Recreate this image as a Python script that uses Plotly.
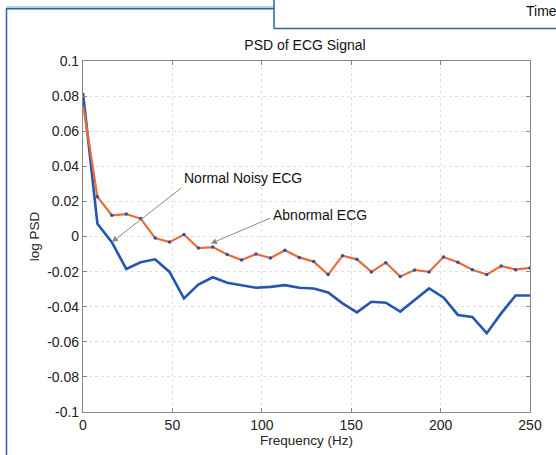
import plotly.graph_objects as go
import numpy as np

freq = np.linspace(0, 250, 32)

abnormal_ecg = [0.0752, 0.0226, 0.0121, 0.0128, 0.0102, -0.0009, -0.0032, 0.0011,
                -0.0066, -0.0060, -0.0102, -0.0134, -0.0100, -0.0123, -0.0079, -0.0119,
                -0.0143, -0.0217, -0.0109, -0.0130, -0.0202, -0.0149, -0.0228, -0.0191,
                -0.0202, -0.0117, -0.0147, -0.0189, -0.0217, -0.0168, -0.0189, -0.0179]

normal_noisy_ecg = [0.0818, 0.0072, -0.0032, -0.0185, -0.0147, -0.0130, -0.0202, -0.0353,
                    -0.0274, -0.0232, -0.0264, -0.0279, -0.0292, -0.0287, -0.0277, -0.0292,
                    -0.0296, -0.0319, -0.0381, -0.0432, -0.0372, -0.0377, -0.0428, -0.0362,
                    -0.0296, -0.0347, -0.0447, -0.0458, -0.0551, -0.0438, -0.0336, -0.0336]

y_ticks = [0.1, 0.08, 0.06, 0.04, 0.02, 0, -0.02, -0.04, -0.06, -0.08, -0.1]
y_tick_text = ["0.1", "0.08", "0.06", "0.04", "0.02", "0", "-0.02", "-0.04", "-0.06", "-0.08", "-0.1"]
x_ticks = [0, 50, 100, 150, 200, 250]

FONT = "Liberation Sans, Arial, sans-serif"

fig = go.Figure()
fig.add_trace(go.Scatter(x=freq, y=normal_noisy_ecg, mode="lines",
                         line=dict(color="#2455b0", width=2.6), showlegend=False))
fig.add_trace(go.Scatter(x=freq, y=abnormal_ecg, mode="lines+markers",
                         line=dict(color="#ee6a35", width=2.2),
                         marker=dict(color="#2455b0", size=3.5), showlegend=False))

# plot area pixels
L, R, T, B = 83, 530, 61, 412
W, H = 556, 455
def px(x):
    return (x - L) / (R - L)
def py(y):
    return (B - y) / (B - T)

frame_color = "#2a65a8"
shapes = [
    dict(type="line", xref="paper", yref="paper", x0=px(6.5), x1=px(274), y0=py(7), y1=py(7),
         line=dict(color="#9dbbe0", width=1.5)),
    dict(type="line", xref="paper", yref="paper", x0=px(6.5), x1=px(274), y0=py(8.7), y1=py(8.7),
         line=dict(color=frame_color, width=1.5)),
    dict(type="line", xref="paper", yref="paper", x0=px(6.5), x1=px(6.5), y0=py(8), y1=py(460),
         line=dict(color=frame_color, width=1.5)),
    dict(type="line", xref="paper", yref="paper", x0=px(274), x1=px(274), y0=py(-2), y1=py(28.5),
         line=dict(color=frame_color, width=1.5)),
    dict(type="line", xref="paper", yref="paper", x0=px(274), x1=px(560), y0=py(28.5), y1=py(28.5),
         line=dict(color=frame_color, width=1.5)),
]

annotations = [
    dict(x=px(524), y=py(11), xref="paper", yref="paper", text="Time", showarrow=False,
         xanchor="left", yanchor="middle", font=dict(family=FONT, size=14, color="#111")),
    dict(x=16.13, y=-0.0032, ax=55.8, ay=0.0283, xref="x", yref="y", axref="x", ayref="y",
         text="", showarrow=True, arrowhead=2, arrowsize=1.2, arrowwidth=1, arrowcolor="#888"),
    dict(x=55.3, y=0.0335, xref="x", yref="y", text="Normal Noisy ECG", showarrow=False,
         xanchor="left", yanchor="middle", font=dict(family=FONT, size=14, color="#111")),
    dict(x=71.5, y=-0.0040, ax=105.5, ay=0.0108, xref="x", yref="y", axref="x", ayref="y",
         text="", showarrow=True, arrowhead=2, arrowsize=1.2, arrowwidth=1, arrowcolor="#888"),
    dict(x=105.3, y=0.0120, xref="x", yref="y", text="Abnormal ECG", showarrow=False,
         xanchor="left", yanchor="middle", font=dict(family=FONT, size=14, color="#111")),
]

fig.update_layout(
    width=W, height=H,
    margin=dict(l=L, r=W - R, t=T, b=H - B),
    paper_bgcolor="white", plot_bgcolor="white",
    font=dict(family=FONT, size=14, color="#222"),
    title=dict(text="PSD of ECG Signal", xref="container", x=305 / W, xanchor="center",
               yref="container", y=1 - 45 / H, yanchor="middle",
               font=dict(family=FONT, size=14, color="#111")),
    shapes=shapes, annotations=annotations,
)
fig.update_xaxes(range=[0, 250], tickvals=x_ticks, showgrid=True, gridcolor="#e0e0e0",
                 griddash="dot", gridwidth=1, zeroline=False, showline=True, linecolor="#888",
                 linewidth=1.2, mirror="ticks", ticks="inside", ticklen=4, tickcolor="#888",
                 title=dict(text="Frequency (Hz)", standoff=1, font=dict(size=13.5)),
                 tickfont=dict(size=14))
fig.update_yaxes(range=[-0.1, 0.1], tickvals=y_ticks, ticktext=y_tick_text, showgrid=True,
                 gridcolor="#e0e0e0", griddash="dot", gridwidth=1, zeroline=False, showline=True,
                 linecolor="#888", linewidth=1.2, mirror="ticks", ticks="inside", ticklen=4,
                 tickcolor="#888", title=dict(text="log PSD", standoff=4, font=dict(size=13.5)),
                 tickfont=dict(size=14))

fig.write_html("out.html", config={"displayModeBar": False},
               post_script="document.body.style.margin='0';")
